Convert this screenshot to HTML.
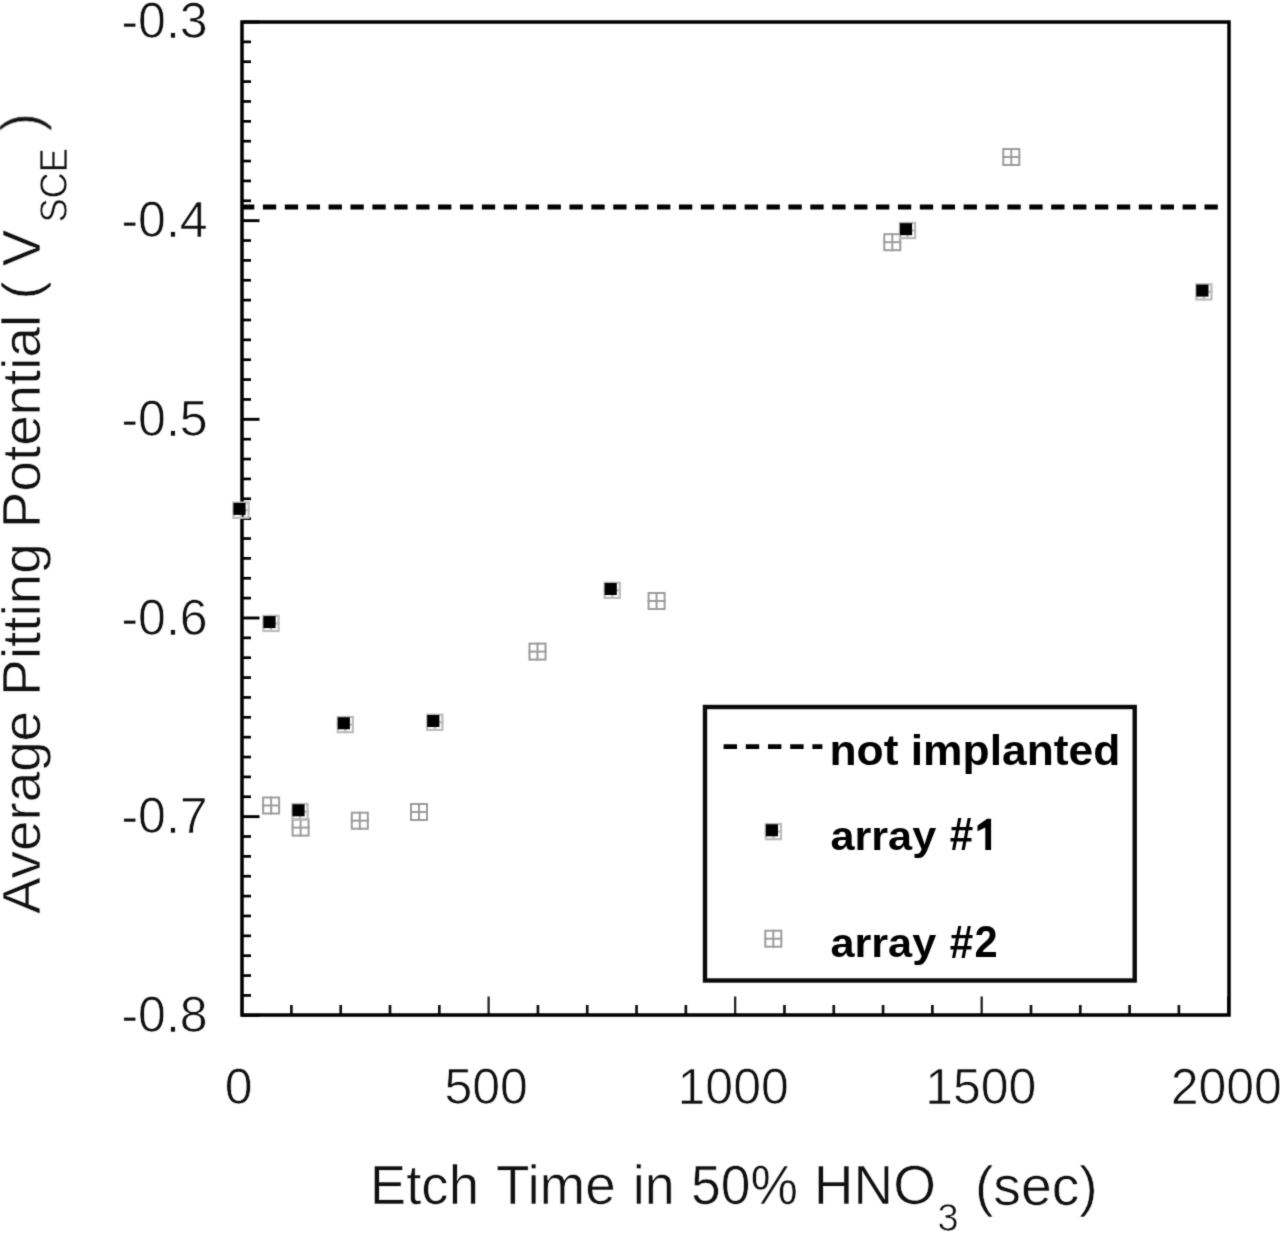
<!DOCTYPE html>
<html><head><meta charset="utf-8"><style>
html,body{margin:0;padding:0;background:#fff;}
body{width:1280px;height:1234px;overflow:hidden;}
svg{display:block;}
text{font-family:"Liberation Sans",sans-serif;fill:#111;}
.tl{font-size:50px;stroke:#fff;stroke-width:0.7px;}
.ti{font-size:55px;stroke:#fff;stroke-width:0.6px;}
.lg{font-size:44px;font-weight:bold;fill:#000;}
</style></head><body>
<svg width="1280" height="1234" viewBox="0 0 1280 1234">
<defs><filter id="f" filterUnits="userSpaceOnUse" x="-10" y="-10" width="1300" height="1260" color-interpolation-filters="sRGB">
<feColorMatrix type="saturate" values="0"/><feConvolveMatrix order="3" kernelMatrix="0.01917 0.10012 0.01917 0.10012 0.52283 0.10012 0.01917 0.10012 0.01917" preserveAlpha="true"/></filter></defs>
<g filter="url(#f)">
<rect x="-10" y="-10" width="1300" height="1260" fill="#fff"/>
<line x1="242.0" y1="22.00" x2="259.50" y2="22.00" stroke="#000" stroke-width="2.9"/>
<line x1="242.0" y1="41.87" x2="251.00" y2="41.87" stroke="#000" stroke-width="2.7"/>
<line x1="242.0" y1="61.73" x2="251.00" y2="61.73" stroke="#000" stroke-width="2.7"/>
<line x1="242.0" y1="81.60" x2="251.00" y2="81.60" stroke="#000" stroke-width="2.7"/>
<line x1="242.0" y1="101.46" x2="251.00" y2="101.46" stroke="#000" stroke-width="2.7"/>
<line x1="242.0" y1="121.33" x2="251.00" y2="121.33" stroke="#000" stroke-width="2.7"/>
<line x1="242.0" y1="141.20" x2="251.00" y2="141.20" stroke="#000" stroke-width="2.7"/>
<line x1="242.0" y1="161.06" x2="251.00" y2="161.06" stroke="#000" stroke-width="2.7"/>
<line x1="242.0" y1="180.93" x2="251.00" y2="180.93" stroke="#000" stroke-width="2.7"/>
<line x1="242.0" y1="200.79" x2="251.00" y2="200.79" stroke="#000" stroke-width="2.7"/>
<line x1="242.0" y1="220.66" x2="259.50" y2="220.66" stroke="#000" stroke-width="2.9"/>
<line x1="242.0" y1="240.53" x2="251.00" y2="240.53" stroke="#000" stroke-width="2.7"/>
<line x1="242.0" y1="260.39" x2="251.00" y2="260.39" stroke="#000" stroke-width="2.7"/>
<line x1="242.0" y1="280.26" x2="251.00" y2="280.26" stroke="#000" stroke-width="2.7"/>
<line x1="242.0" y1="300.12" x2="251.00" y2="300.12" stroke="#000" stroke-width="2.7"/>
<line x1="242.0" y1="319.99" x2="251.00" y2="319.99" stroke="#000" stroke-width="2.7"/>
<line x1="242.0" y1="339.86" x2="251.00" y2="339.86" stroke="#000" stroke-width="2.7"/>
<line x1="242.0" y1="359.72" x2="251.00" y2="359.72" stroke="#000" stroke-width="2.7"/>
<line x1="242.0" y1="379.59" x2="251.00" y2="379.59" stroke="#000" stroke-width="2.7"/>
<line x1="242.0" y1="399.45" x2="251.00" y2="399.45" stroke="#000" stroke-width="2.7"/>
<line x1="242.0" y1="419.32" x2="259.50" y2="419.32" stroke="#000" stroke-width="2.9"/>
<line x1="242.0" y1="439.19" x2="251.00" y2="439.19" stroke="#000" stroke-width="2.7"/>
<line x1="242.0" y1="459.05" x2="251.00" y2="459.05" stroke="#000" stroke-width="2.7"/>
<line x1="242.0" y1="478.92" x2="251.00" y2="478.92" stroke="#000" stroke-width="2.7"/>
<line x1="242.0" y1="498.78" x2="251.00" y2="498.78" stroke="#000" stroke-width="2.7"/>
<line x1="242.0" y1="518.65" x2="251.00" y2="518.65" stroke="#000" stroke-width="2.7"/>
<line x1="242.0" y1="538.52" x2="251.00" y2="538.52" stroke="#000" stroke-width="2.7"/>
<line x1="242.0" y1="558.38" x2="251.00" y2="558.38" stroke="#000" stroke-width="2.7"/>
<line x1="242.0" y1="578.25" x2="251.00" y2="578.25" stroke="#000" stroke-width="2.7"/>
<line x1="242.0" y1="598.11" x2="251.00" y2="598.11" stroke="#000" stroke-width="2.7"/>
<line x1="242.0" y1="617.98" x2="259.50" y2="617.98" stroke="#000" stroke-width="2.9"/>
<line x1="242.0" y1="637.85" x2="251.00" y2="637.85" stroke="#000" stroke-width="2.7"/>
<line x1="242.0" y1="657.71" x2="251.00" y2="657.71" stroke="#000" stroke-width="2.7"/>
<line x1="242.0" y1="677.58" x2="251.00" y2="677.58" stroke="#000" stroke-width="2.7"/>
<line x1="242.0" y1="697.44" x2="251.00" y2="697.44" stroke="#000" stroke-width="2.7"/>
<line x1="242.0" y1="717.31" x2="251.00" y2="717.31" stroke="#000" stroke-width="2.7"/>
<line x1="242.0" y1="737.18" x2="251.00" y2="737.18" stroke="#000" stroke-width="2.7"/>
<line x1="242.0" y1="757.04" x2="251.00" y2="757.04" stroke="#000" stroke-width="2.7"/>
<line x1="242.0" y1="776.91" x2="251.00" y2="776.91" stroke="#000" stroke-width="2.7"/>
<line x1="242.0" y1="796.77" x2="251.00" y2="796.77" stroke="#000" stroke-width="2.7"/>
<line x1="242.0" y1="816.64" x2="259.50" y2="816.64" stroke="#000" stroke-width="2.9"/>
<line x1="242.0" y1="836.51" x2="251.00" y2="836.51" stroke="#000" stroke-width="2.7"/>
<line x1="242.0" y1="856.37" x2="251.00" y2="856.37" stroke="#000" stroke-width="2.7"/>
<line x1="242.0" y1="876.24" x2="251.00" y2="876.24" stroke="#000" stroke-width="2.7"/>
<line x1="242.0" y1="896.10" x2="251.00" y2="896.10" stroke="#000" stroke-width="2.7"/>
<line x1="242.0" y1="915.97" x2="251.00" y2="915.97" stroke="#000" stroke-width="2.7"/>
<line x1="242.0" y1="935.84" x2="251.00" y2="935.84" stroke="#000" stroke-width="2.7"/>
<line x1="242.0" y1="955.70" x2="251.00" y2="955.70" stroke="#000" stroke-width="2.7"/>
<line x1="242.0" y1="975.57" x2="251.00" y2="975.57" stroke="#000" stroke-width="2.7"/>
<line x1="242.0" y1="995.43" x2="251.00" y2="995.43" stroke="#000" stroke-width="2.7"/>
<line x1="242.0" y1="1015.30" x2="259.50" y2="1015.30" stroke="#000" stroke-width="2.9"/>
<line x1="242.10" y1="1015.0" x2="242.10" y2="996.50" stroke="#222" stroke-width="2.3"/>
<line x1="291.40" y1="1015.0" x2="291.40" y2="1005.00" stroke="#111" stroke-width="2.7"/>
<line x1="340.71" y1="1015.0" x2="340.71" y2="1005.00" stroke="#111" stroke-width="2.7"/>
<line x1="390.01" y1="1015.0" x2="390.01" y2="1005.00" stroke="#111" stroke-width="2.7"/>
<line x1="439.32" y1="1015.0" x2="439.32" y2="1005.00" stroke="#111" stroke-width="2.7"/>
<line x1="488.62" y1="1015.0" x2="488.62" y2="996.50" stroke="#222" stroke-width="2.3"/>
<line x1="537.93" y1="1015.0" x2="537.93" y2="1005.00" stroke="#111" stroke-width="2.7"/>
<line x1="587.24" y1="1015.0" x2="587.24" y2="1005.00" stroke="#111" stroke-width="2.7"/>
<line x1="636.54" y1="1015.0" x2="636.54" y2="1005.00" stroke="#111" stroke-width="2.7"/>
<line x1="685.85" y1="1015.0" x2="685.85" y2="1005.00" stroke="#111" stroke-width="2.7"/>
<line x1="735.15" y1="1015.0" x2="735.15" y2="996.50" stroke="#222" stroke-width="2.3"/>
<line x1="784.46" y1="1015.0" x2="784.46" y2="1005.00" stroke="#111" stroke-width="2.7"/>
<line x1="833.76" y1="1015.0" x2="833.76" y2="1005.00" stroke="#111" stroke-width="2.7"/>
<line x1="883.07" y1="1015.0" x2="883.07" y2="1005.00" stroke="#111" stroke-width="2.7"/>
<line x1="932.37" y1="1015.0" x2="932.37" y2="1005.00" stroke="#111" stroke-width="2.7"/>
<line x1="981.67" y1="1015.0" x2="981.67" y2="996.50" stroke="#222" stroke-width="2.3"/>
<line x1="1030.98" y1="1015.0" x2="1030.98" y2="1005.00" stroke="#111" stroke-width="2.7"/>
<line x1="1080.28" y1="1015.0" x2="1080.28" y2="1005.00" stroke="#111" stroke-width="2.7"/>
<line x1="1129.59" y1="1015.0" x2="1129.59" y2="1005.00" stroke="#111" stroke-width="2.7"/>
<line x1="1178.89" y1="1015.0" x2="1178.89" y2="1005.00" stroke="#111" stroke-width="2.7"/>
<line x1="1228.20" y1="1015.0" x2="1228.20" y2="996.50" stroke="#222" stroke-width="2.3"/>
<rect x="242.0" y="22.0" width="987.0" height="993.0" fill="none" stroke="#000" stroke-width="3.5"/>
<line x1="241.0" y1="207.0" x2="1218.6" y2="207.0" stroke="#000" stroke-width="4.9" stroke-dasharray="13.3 8.5975"/>
<text transform="translate(207.60,38.10) scale(1.0000,1.0000)" class="tl" text-anchor="end">-0.3</text>
<text transform="translate(207.60,237.26) scale(1.0000,1.0000)" class="tl" text-anchor="end">-0.4</text>
<text transform="translate(207.60,435.92) scale(1.0000,1.0000)" class="tl" text-anchor="end">-0.5</text>
<text transform="translate(207.60,634.58) scale(1.0000,1.0000)" class="tl" text-anchor="end">-0.6</text>
<text transform="translate(207.60,833.24) scale(1.0000,1.0000)" class="tl" text-anchor="end">-0.7</text>
<text transform="translate(207.60,1031.90) scale(1.0000,1.0000)" class="tl" text-anchor="end">-0.8</text>
<text transform="translate(238.75,1103.60) scale(1.0000,1.0000)" class="tl" text-anchor="middle">0</text>
<text transform="translate(486.20,1103.60) scale(1.0000,1.0000)" class="tl" text-anchor="middle">500</text>
<text transform="translate(733.15,1103.60) scale(1.0000,1.0000)" class="tl" text-anchor="middle">1000</text>
<text transform="translate(980.80,1103.60) scale(1.0000,1.0000)" class="tl" text-anchor="middle">1500</text>
<text transform="translate(1226.30,1103.60) scale(1.0000,1.0000)" class="tl" text-anchor="middle">2000</text>
<text transform="translate(369.73,1204.30) scale(0.9930,1.0200)" class="ti">Etch</text>
<text transform="translate(495.95,1204.30) scale(0.9970,1.0200)" class="ti">Time</text>
<text transform="translate(632.74,1204.30) scale(0.9770,1.0200)" class="ti">in</text>
<text transform="translate(691.02,1204.30) scale(0.9710,1.0200)" class="ti">50%</text>
<text transform="translate(813.70,1204.30) scale(1.0000,1.0200)" class="ti">HNO</text>
<text transform="translate(937.40,1231.00) scale(1.0000,1.0000)" class="ti" style="font-size:38px">3</text>
<text transform="translate(974.90,1204.50) scale(1.0050,1.0000)" class="ti">(sec)</text>
<text transform="matrix(0,-0.9966,0.9900,0,39.50,914.05)" class="ti">Average Pitting Potential ( V</text>
<text transform="matrix(0,-0.9550,1.0000,0,67.30,222.60)" class="ti" style="font-size:38px">SCE</text>
<text transform="matrix(0,-1.0000,1.0000,0,39.50,131.30)" class="ti">)</text>
<g stroke="#9c9c9c" stroke-width="2.0" fill="none"><rect x="263.10" y="797.50" width="16.00" height="16.00"/><line x1="262.10" y1="805.50" x2="280.10" y2="805.50"/><line x1="271.10" y1="796.50" x2="271.10" y2="814.50"/></g>
<g stroke="#9c9c9c" stroke-width="2.0" fill="none"><rect x="292.60" y="819.60" width="16.00" height="16.00"/><line x1="291.60" y1="827.60" x2="309.60" y2="827.60"/><line x1="300.60" y1="818.60" x2="300.60" y2="836.60"/></g>
<g stroke="#9c9c9c" stroke-width="2.0" fill="none"><rect x="351.80" y="812.70" width="16.00" height="16.00"/><line x1="350.80" y1="820.70" x2="368.80" y2="820.70"/><line x1="359.80" y1="811.70" x2="359.80" y2="829.70"/></g>
<g stroke="#9c9c9c" stroke-width="2.0" fill="none"><rect x="411.00" y="804.00" width="16.00" height="16.00"/><line x1="410.00" y1="812.00" x2="428.00" y2="812.00"/><line x1="419.00" y1="803.00" x2="419.00" y2="821.00"/></g>
<g stroke="#9c9c9c" stroke-width="2.0" fill="none"><rect x="529.50" y="643.60" width="16.00" height="16.00"/><line x1="528.50" y1="651.60" x2="546.50" y2="651.60"/><line x1="537.50" y1="642.60" x2="537.50" y2="660.60"/></g>
<g stroke="#9c9c9c" stroke-width="2.0" fill="none"><rect x="648.60" y="593.00" width="16.00" height="16.00"/><line x1="647.60" y1="601.00" x2="665.60" y2="601.00"/><line x1="656.60" y1="592.00" x2="656.60" y2="610.00"/></g>
<g stroke="#9c9c9c" stroke-width="2.0" fill="none"><rect x="884.30" y="234.20" width="16.00" height="16.00"/><line x1="883.30" y1="242.20" x2="901.30" y2="242.20"/><line x1="892.30" y1="233.20" x2="892.30" y2="251.20"/></g>
<g stroke="#9c9c9c" stroke-width="2.0" fill="none"><rect x="1003.30" y="149.00" width="16.00" height="16.00"/><line x1="1002.30" y1="157.00" x2="1020.30" y2="157.00"/><line x1="1011.30" y1="148.00" x2="1011.30" y2="166.00"/></g>
<g stroke="#bcbcbc" stroke-width="2.2" fill="none"><rect x="233.40" y="502.60" width="15.20" height="15.20"/><line x1="232.30" y1="510.20" x2="249.70" y2="510.20"/><line x1="241.00" y1="501.50" x2="241.00" y2="518.90"/></g><rect x="233.40" y="502.90" width="12.2" height="12" fill="#000"/>
<g stroke="#bcbcbc" stroke-width="2.2" fill="none"><rect x="263.40" y="615.80" width="15.20" height="15.20"/><line x1="262.30" y1="623.40" x2="279.70" y2="623.40"/><line x1="271.00" y1="614.70" x2="271.00" y2="632.10"/></g><rect x="263.40" y="616.10" width="12.2" height="12" fill="#000"/>
<g stroke="#bcbcbc" stroke-width="2.2" fill="none"><rect x="292.40" y="804.00" width="15.20" height="15.20"/><line x1="291.30" y1="811.60" x2="308.70" y2="811.60"/><line x1="300.00" y1="802.90" x2="300.00" y2="820.30"/></g><rect x="292.40" y="804.30" width="12.2" height="12" fill="#000"/>
<g stroke="#bcbcbc" stroke-width="2.2" fill="none"><rect x="337.70" y="717.00" width="15.20" height="15.20"/><line x1="336.60" y1="724.60" x2="354.00" y2="724.60"/><line x1="345.30" y1="715.90" x2="345.30" y2="733.30"/></g><rect x="337.70" y="717.30" width="12.2" height="12" fill="#000"/>
<g stroke="#bcbcbc" stroke-width="2.2" fill="none"><rect x="427.20" y="714.70" width="15.20" height="15.20"/><line x1="426.10" y1="722.30" x2="443.50" y2="722.30"/><line x1="434.80" y1="713.60" x2="434.80" y2="731.00"/></g><rect x="427.20" y="715.00" width="12.2" height="12" fill="#000"/>
<g stroke="#bcbcbc" stroke-width="2.2" fill="none"><rect x="604.60" y="582.70" width="15.20" height="15.20"/><line x1="603.50" y1="590.30" x2="620.90" y2="590.30"/><line x1="612.20" y1="581.60" x2="612.20" y2="599.00"/></g><rect x="604.60" y="583.00" width="12.2" height="12" fill="#000"/>
<g stroke="#bcbcbc" stroke-width="2.2" fill="none"><rect x="899.90" y="222.90" width="15.20" height="15.20"/><line x1="898.80" y1="230.50" x2="916.20" y2="230.50"/><line x1="907.50" y1="221.80" x2="907.50" y2="239.20"/></g><rect x="899.90" y="223.20" width="12.2" height="12" fill="#000"/>
<g stroke="#bcbcbc" stroke-width="2.2" fill="none"><rect x="1196.30" y="284.30" width="15.20" height="15.20"/><line x1="1195.20" y1="291.90" x2="1212.60" y2="291.90"/><line x1="1203.90" y1="283.20" x2="1203.90" y2="300.60"/></g><rect x="1196.30" y="284.60" width="12.2" height="12" fill="#000"/>
<rect x="705" y="707" width="429.7" height="273.5" fill="#fff" stroke="#0a0a0a" stroke-width="4.4"/>
<line x1="723.6" y1="746.6" x2="822.4" y2="746.6" stroke="#000" stroke-width="4.9" stroke-dasharray="13.4 8.8"/>
<text transform="translate(829.40,764.80) scale(1.0090,0.9550)" class="lg">not implanted</text>
<g stroke="#bcbcbc" stroke-width="2.2" fill="none"><rect x="765.80" y="824.00" width="15.20" height="15.20"/><line x1="764.70" y1="831.60" x2="782.10" y2="831.60"/><line x1="773.40" y1="822.90" x2="773.40" y2="840.30"/></g><rect x="765.80" y="824.30" width="12.2" height="12" fill="#000"/>
<text transform="translate(830.40,850.00) scale(0.9830,0.9400)" class="lg">array</text>
<text transform="translate(949.70,850.30) scale(0.9600,1.0370)" class="lg">#</text>
<path d="M977.5,825.6 L987.2,818.7 L991.1,818.7 L991.1,850.0 L985.3,850.0 L985.3,827.4 L977.5,831.2 Z" fill="#000"/>
<g stroke="#9c9c9c" stroke-width="2.0" fill="none"><rect x="765.30" y="930.70" width="16.00" height="16.00"/><line x1="764.30" y1="938.70" x2="782.30" y2="938.70"/><line x1="773.30" y1="929.70" x2="773.30" y2="947.70"/></g>
<text transform="translate(830.40,957.10) scale(0.9830,0.9400)" class="lg">array</text>
<text transform="translate(949.70,957.50) scale(0.9600,1.0370)" class="lg">#</text>
<text transform="translate(974.50,957.10) scale(0.9460,1.0000)" class="lg">2</text>
</g>
</svg>
</body></html>
